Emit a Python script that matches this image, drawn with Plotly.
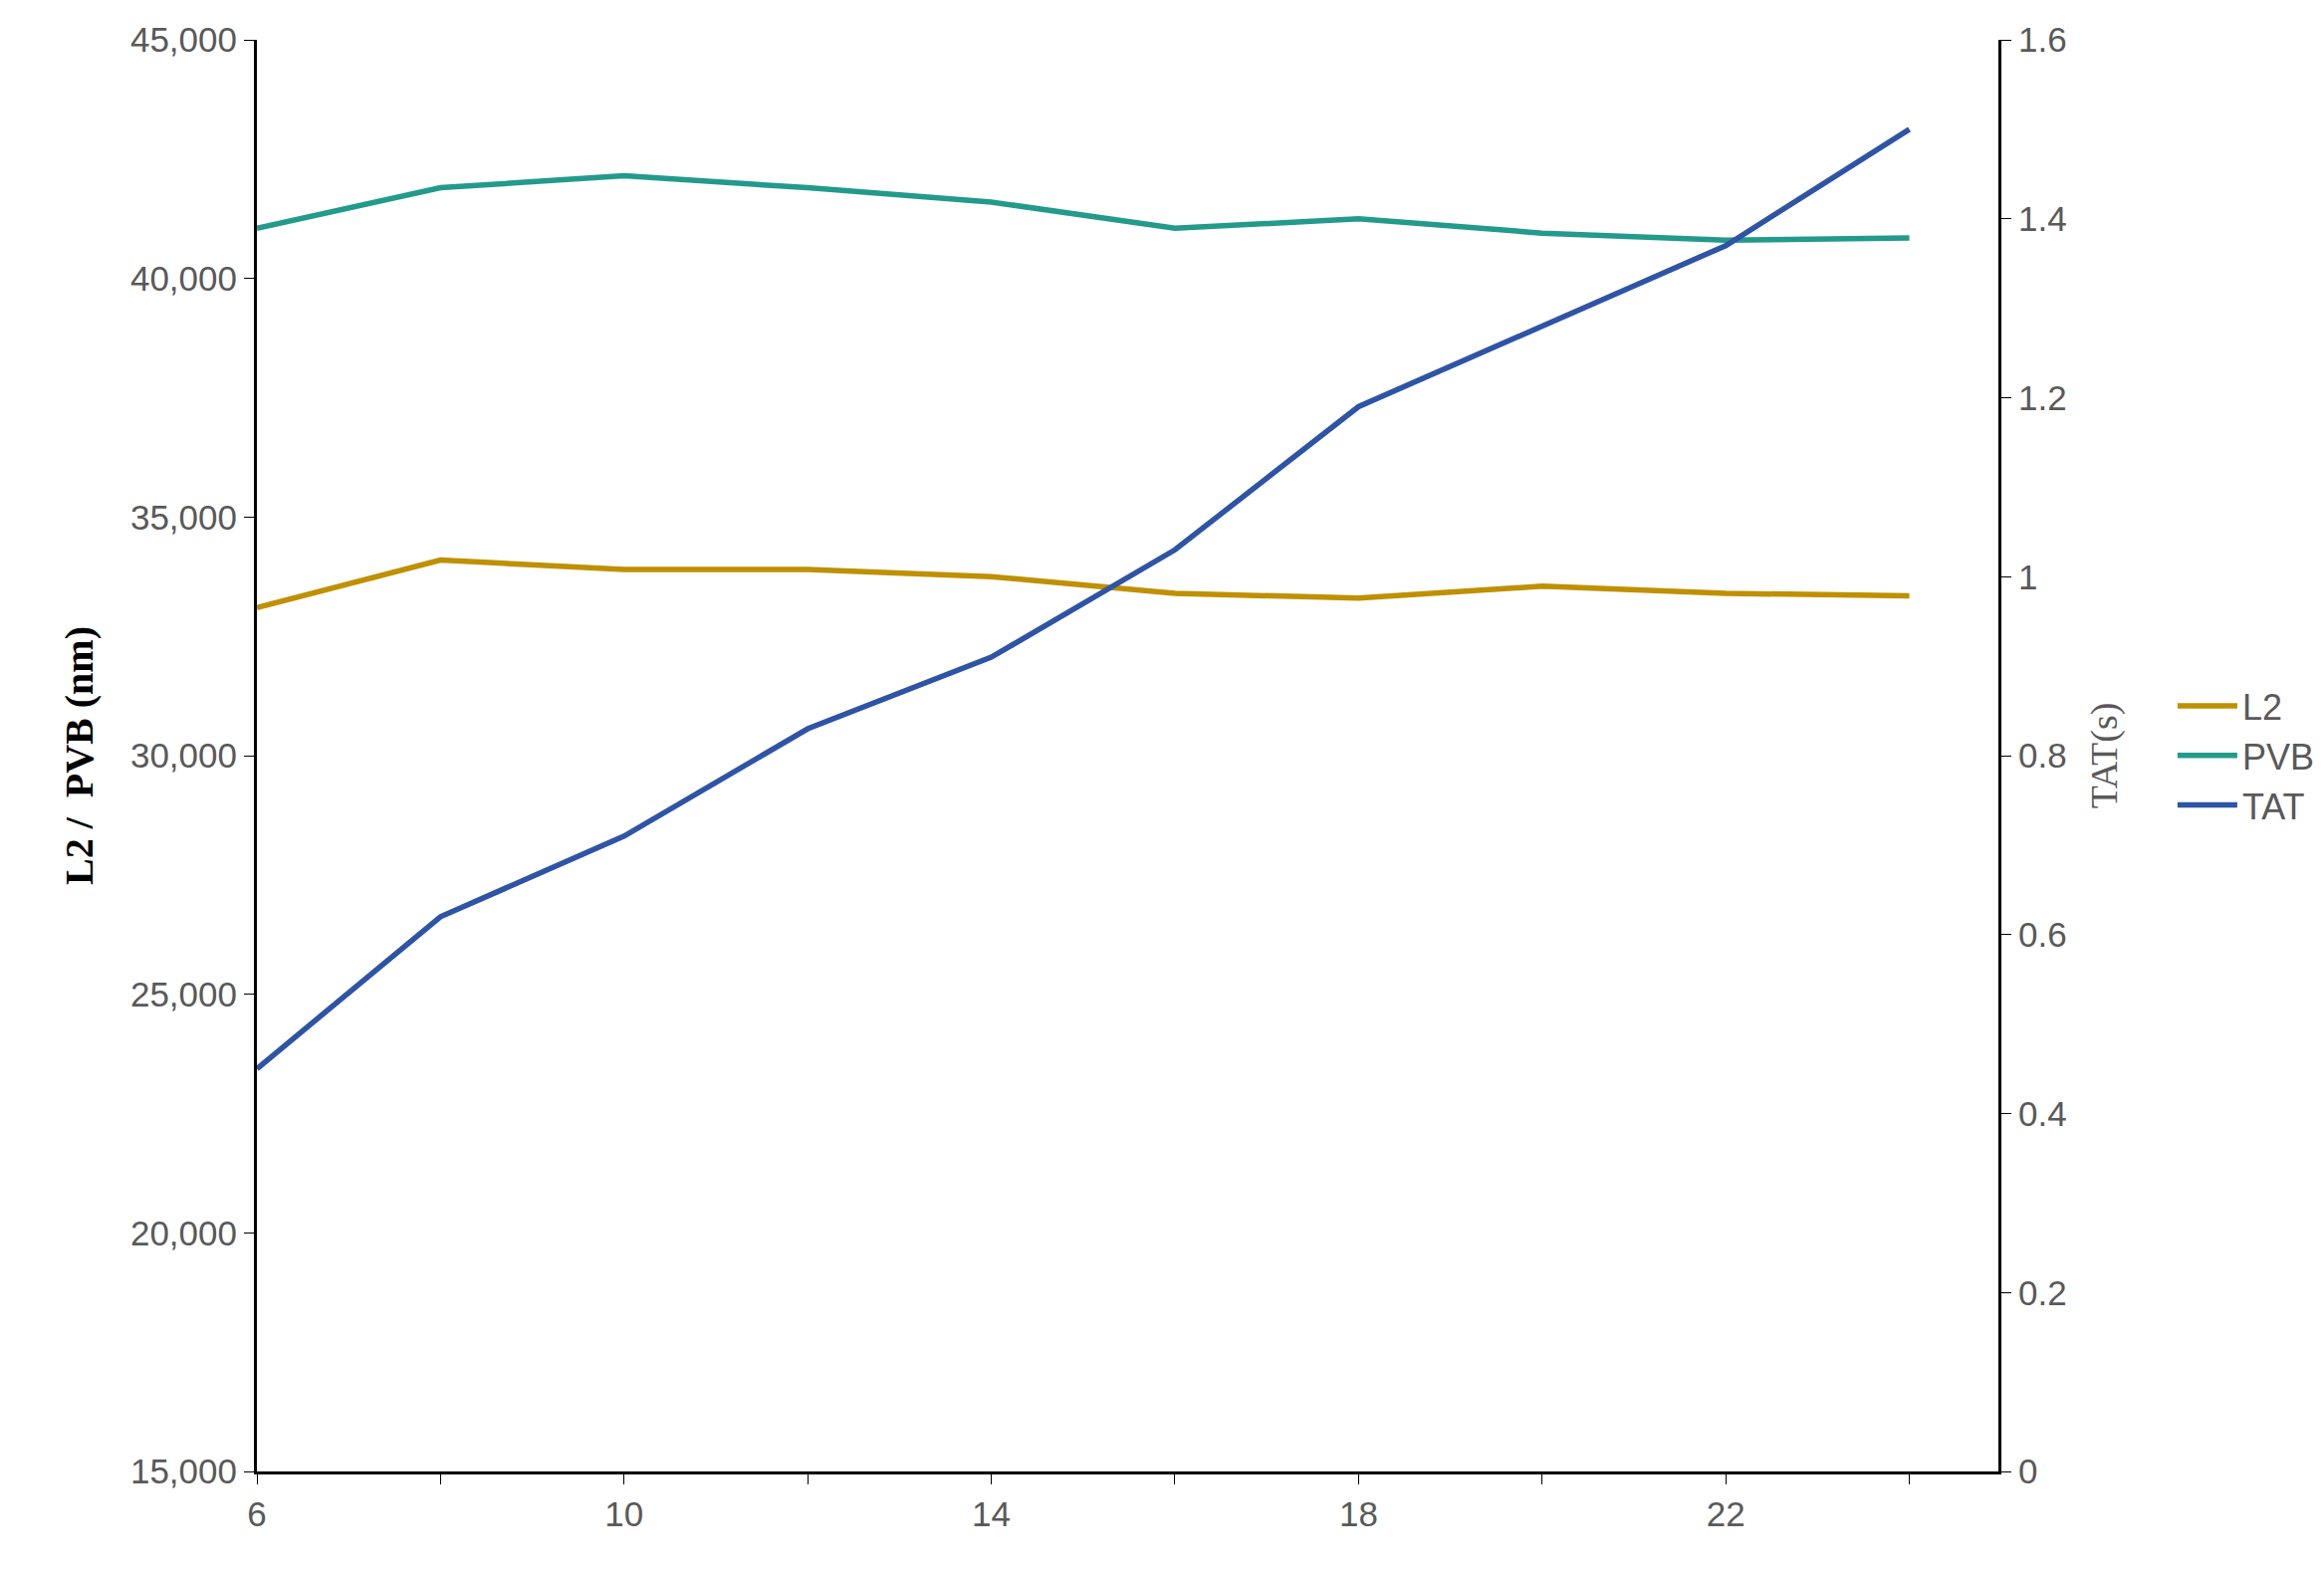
import plotly.graph_objects as go

x_vals = [6, 8, 10, 12, 14, 16, 18, 20, 22, 24]
l2 = [33100, 34100, 33900, 33900, 33750, 33400, 33300, 33550, 33400, 33350]
pvb = [41050, 41900, 42150, 41900, 41600, 41050, 41250, 40950, 40800, 40850]
tat = [0.45, 0.62, 0.71, 0.83, 0.91, 1.03, 1.19, 1.28, 1.37, 1.50]

gray = '#595959'
fig = go.Figure()
fig.add_trace(go.Scatter(x=x_vals, y=l2, name='L2', mode='lines', line=dict(color='#BF9000', width=5.5)))
fig.add_trace(go.Scatter(x=x_vals, y=pvb, name='PVB', mode='lines', line=dict(color='#229A8C', width=5.5)))
fig.add_trace(go.Scatter(x=x_vals, y=tat, name='TAT', mode='lines', line=dict(color='#2E54A6', width=5.5), yaxis='y2'))

tickfont = dict(family='Liberation Sans', size=35, color=gray)
fig.update_layout(
    width=2334, height=1580, plot_bgcolor='white', paper_bgcolor='white',
    margin=dict(l=250, r=330, t=32, b=110),
    xaxis=dict(range=[6, 24.97], tickvals=[6, 10, 14, 18, 22], ticks='outside', ticklen=10,
               minor=dict(tickvals=[8, 12, 16, 20, 24], ticks='outside', ticklen=10, tickcolor='black'),
               showline=True, linecolor='black', linewidth=3, showgrid=False, zeroline=False,
               tickfont=tickfont, tickcolor='black'),
    yaxis=dict(range=[15000, 45000], dtick=5000, tickformat=',', ticks='outside', ticklen=10,
               showline=True, linecolor='black', linewidth=3, showgrid=False, zeroline=False,
               tickfont=tickfont, tickcolor='black',
               title=dict(text='<b>L2 /  PVB (nm)</b>', font=dict(family='Liberation Serif', size=40, color='black'), standoff=25)),
    yaxis2=dict(range=[0, 1.6], dtick=0.2, overlaying='y', side='right', ticks='outside', ticklen=10,
                showline=True, linecolor='black', linewidth=3, showgrid=False, zeroline=False,
                tickformat='~g', tickfont=tickfont, tickcolor='black',
                title=dict(text='TAT(s)', font=dict(family='Liberation Serif', size=38, color=gray), standoff=25)),
    legend=dict(x=1.1, y=0.5, xanchor='left', yanchor='middle', font=dict(family='Liberation Sans', size=36, color=gray),
                tracegroupgap=0, itemwidth=60),
)
fig.write_html("out.html")
